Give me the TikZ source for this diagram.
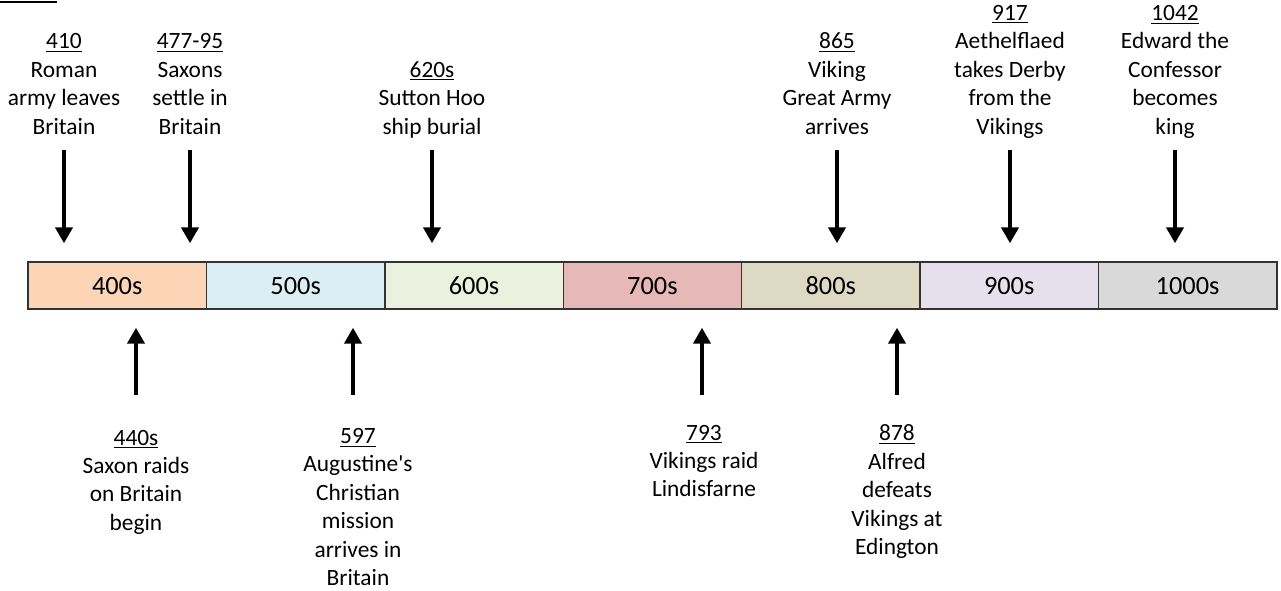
\documentclass[tikz,border=0pt]{standalone}
\usepackage{fontspec}
\setmainfont{Carlito}
\usetikzlibrary{arrows.meta}
\tikzset{>=Latex}

\definecolor{c400}{HTML}{FBD5B5}
\definecolor{c500}{HTML}{DBEEF4}
\definecolor{c600}{HTML}{EBF1DE}
\definecolor{c700}{HTML}{E6B9B8}
\definecolor{c800}{HTML}{DDD9C3}
\definecolor{c900}{HTML}{E5E0EC}
\definecolor{c1000}{HTML}{D9D9D9}

\begin{document}
\begin{tikzpicture}[
  decade/.style={rectangle, draw=black!80, line width=0.8pt, minimum width=3.568cm,
    minimum height=0.94cm, inner sep=0pt, text height=9.7pt, text depth=0pt,
    font=\fontsize{15}{18}\selectfont},
  toplbl/.style={align=center, anchor=south, inner xsep=1pt, inner ysep=0pt,
    text depth=0pt, font=\fontsize{13.3}{16.2}\selectfont},
  botlbl/.style={align=center, anchor=north, inner xsep=1pt, inner ysep=0pt,
    font=\fontsize{13.3}{16.2}\selectfont},
  downarrow/.style={-{Triangle[width=0.34cm,length=0.32cm]}, line width=2.6pt,
    shorten <=0.31cm, shorten >=0.36cm},
  uparrow/.style={-{Triangle[width=0.34cm,length=0.32cm]}, line width=2.6pt,
    shorten <=0.69cm, shorten >=0.36cm}
]
\useasboundingbox (0,0) rectangle (25.62,11.8);

% ---------- Corner rule ----------
\draw[line width=0.8pt] (0,11.76) -- (1.14,11.76);

% ---------- Decade bar ----------
\node[decade, fill=c400] (s400) at (2.344,6.09) {400s};
\node[decade, fill=c500] (s500) at (5.912,6.09) {500s};
\node[decade, fill=c600] (s600) at (9.480,6.09) {600s};
\node[decade, fill=c700] (s700) at (13.048,6.09) {700s};
\node[decade, fill=c800] (s800) at (16.616,6.09) {800s};
\node[decade, fill=c900] (s900) at (20.184,6.09) {900s};
\node[decade, fill=c1000] (s1000) at (23.752,6.09) {1000s};

% ---------- Events above ----------
\node[toplbl] (e410) at (1.28,9.11) {\underline{410}\\Roman\\army leaves\\Britain};
\node[toplbl] (e477) at (3.80,9.11) {\underline{477-95}\\Saxons\\settle in\\Britain};
\node[toplbl] (e620) at (8.64,9.11) {\underline{620s}\\Sutton Hoo\\ship burial};
\node[toplbl] (e865) at (16.74,9.11) {\underline{865}\\Viking\\Great Army\\arrives};
\node[toplbl] (e917) at (20.20,9.11) {\underline{917}\\Aethelflaed\\takes Derby\\from the\\Vikings};
\node[toplbl] (e1042) at (23.50,9.11) {\underline{1042}\\Edward the\\Confessor\\becomes\\king};

% ---------- Events below ----------
\node[botlbl] (e440) at (2.72,3.21) {\underline{440s}\\Saxon raids\\on Britain\\begin};
\node[botlbl] (e597) at (7.16,3.24) {\underline{597}\\Augustine\textquotesingle s\\Christian\\mission\\arrives in\\Britain};
\node[botlbl] (e793) at (14.08,3.31) {\underline{793}\\Vikings raid\\Lindisfarne};
\node[botlbl] (e878) at (17.94,3.31) {\underline{878}\\Alfred\\defeats\\Vikings at\\Edington};

% ---------- Arrows down ----------
\draw[downarrow] (e410.south) -- (e410.south |- s400.north);
\draw[downarrow] (e477.south) -- (e477.south |- s400.north);
\draw[downarrow] (e620.south) -- (e620.south |- s600.north);
\draw[downarrow] (e865.south) -- (e865.south |- s800.north);
\draw[downarrow] (e917.south) -- (e917.south |- s900.north);
\draw[downarrow] (e1042.south) -- (e1042.south |- s1000.north);

% ---------- Arrows up ----------
\draw[uparrow] (e440.north) -- (e440.north |- s400.south);
\draw[uparrow, shorten <=0.66cm] ([xshift=-0.1cm]e597.north) -- ([xshift=-0.1cm]e597.north |- s500.south);
\draw[uparrow, shorten <=0.59cm] ([xshift=-0.04cm]e793.north) -- ([xshift=-0.04cm]e793.north |- s700.south);
\draw[uparrow, shorten <=0.59cm] (e878.north) -- (e878.north |- s800.south);

\end{tikzpicture}
\end{document}
